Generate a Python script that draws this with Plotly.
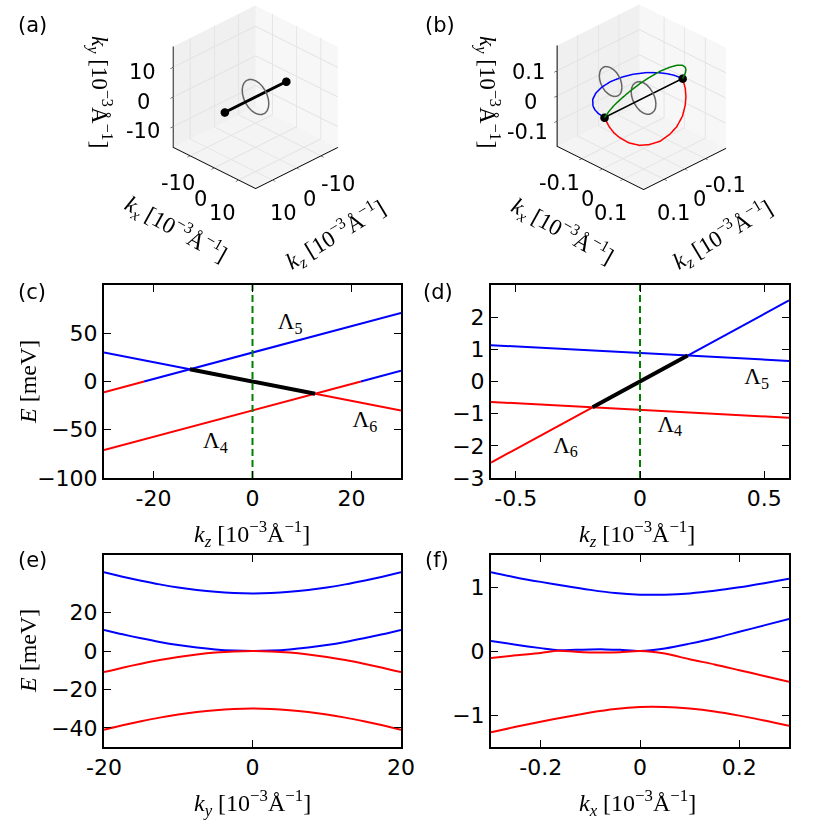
import plotly.graph_objects as go

BLUE = "#0000ff"
RED = "#ff0000"
GREEN = "#008000"
GREY = "#666666"
SANS = "DejaVu Sans"
SERIF = "Liberation Serif"

# ---- (a) nodes on the kz axis and a loop around them, 10^-3 1/A ----
a_node_kz = [-12.7, 12.7]
a_node_kx = [0, 0]
a_node_ky = [0, 0]
a_ring_kx = [5.5, 5.31, 4.76, 3.89, 2.75, 1.42, 0, -1.42, -2.75, -3.89, -4.76, -5.31, -5.5,
             -5.31, -4.76, -3.89, -2.75, -1.42, 0, 1.42, 2.75, 3.89, 4.76, 5.31, 5.5]
a_ring_ky = [0, 1.42, 2.75, 3.89, 4.76, 5.31, 5.5, 5.31, 4.76, 3.89, 2.75, 1.42, 0,
             -1.42, -2.75, -3.89, -4.76, -5.31, -5.5, -5.31, -4.76, -3.89, -2.75, -1.42, 0]
a_ring_kz = [0] * 25

# ---- (b) nodes, three nodal lines joining them, two loops ----
b_node_kz = [-0.19, 0.19]
b_node_kx = [0, 0]
b_node_ky = [0, 0]
b_line_kz = [0.19, 0.185, 0.175, 0.16, 0.13, 0.09, 0.05, 0, -0.05, -0.09, -0.13, -0.16, -0.175, -0.185, -0.19]
b_blue_kx = [0, -0.036, -0.062, -0.086, -0.117, -0.141, -0.154, -0.16, -0.154, -0.141, -0.117, -0.086, -0.062, -0.036, 0]
b_blue_ky = [0] * 15
b_green_kx = [0, 0.018, 0.031, 0.043, 0.059, 0.071, 0.077, 0.08, 0.077, 0.071, 0.059, 0.043, 0.031, 0.018, 0]
b_green_ky = [0, 0.031, 0.054, 0.074, 0.101, 0.122, 0.133, 0.139, 0.133, 0.122, 0.101, 0.074, 0.054, 0.031, 0]
b_red_kx = [0, 0.018, 0.031, 0.043, 0.059, 0.071, 0.077, 0.08, 0.077, 0.071, 0.059, 0.043, 0.031, 0.018, 0]
b_red_ky = [0, -0.031, -0.054, -0.074, -0.101, -0.122, -0.133, -0.139, -0.133, -0.122, -0.101, -0.074, -0.054, -0.031, 0]
b_ring_kx = [0.06, 0.058, 0.052, 0.042, 0.03, 0.016, 0, -0.016, -0.03, -0.042, -0.052, -0.058, -0.06,
             -0.058, -0.052, -0.042, -0.03, -0.016, 0, 0.016, 0.03, 0.042, 0.052, 0.058, 0.06]
b_ring_ky = [0, 0.016, 0.03, 0.042, 0.052, 0.058, 0.06, 0.058, 0.052, 0.042, 0.03, 0.016, 0,
             -0.016, -0.03, -0.042, -0.052, -0.058, -0.06, -0.058, -0.052, -0.042, -0.03, -0.016, 0]
b_ring2_kx = [-0.105, -0.107, -0.112, -0.121, -0.133, -0.146, -0.16, -0.174, -0.188, -0.199, -0.208, -0.213, -0.215,
              -0.213, -0.208, -0.199, -0.188, -0.174, -0.16, -0.146, -0.133, -0.121, -0.112, -0.107, -0.105]
b_ring2_ky = [0, 0.014, 0.028, 0.039, 0.048, 0.053, 0.055, 0.053, 0.048, 0.039, 0.028, 0.014, 0,
              -0.014, -0.028, -0.039, -0.048, -0.053, -0.055, -0.053, -0.048, -0.039, -0.028, -0.014, 0]
b_ring_kz = [0] * 25

# ---- (c) E(kz), meV ----
c_kz_a = [-30, -21.9, 30]
c_E_a = [-11.1, 0.0, 71.1]
c_kz_b = [-30, -12.66, 12.66, 30]
c_E_b = [30.0, 12.66, -12.66, -30.0]
c_kz_c = [-30, 21.9, 30]
c_E_c = [-71.1, 0.0, 11.1]
c_lab_kz = [7.6, 22.7, -7.5]
c_lab_E = [60, -41, -63]
c_lab_text = ["Λ<sub>5</sub>", "Λ<sub>6</sub>", "Λ<sub>4</sub>"]

# ---- (d) E(kz) zoomed ----
d_kz_flat = [-0.6, 0.6]
d_E_up = [1.13, 0.64]
d_E_dn = [-0.634, -1.126]
d_kz_steep = [-0.6, -0.191, 0.192, 0.6]
d_E_steep = [-2.52, -0.802, 0.806, 2.52]
d_lab_kz = [0.47, 0.12, -0.30]
d_lab_E = [0.1, -1.38, -2.03]
d_lab_text = ["Λ<sub>5</sub>", "Λ<sub>4</sub>", "Λ<sub>6</sub>"]

# ---- (e) E(ky) ----
e_ky = [-20, -17.5, -15, -12.5, -10, -7.5, -5, -2.5, 0, 2.5, 5, 7.5, 10, 12.5, 15, 17.5, 20]
e_b1 = [41.0, 38.7, 36.6, 34.7, 33.1, 31.8, 30.8, 30.2, 30.0, 30.2, 30.8, 31.8, 33.1, 34.7, 36.6, 38.7, 41.0]
e_b2 = [11.0, 8.7, 6.6, 4.7, 3.1, 1.8, 0.8, 0.2, 0.0, 0.2, 0.8, 1.8, 3.1, 4.7, 6.6, 8.7, 11.0]
e_r1 = [-11.0, -8.7, -6.6, -4.7, -3.1, -1.8, -0.8, -0.2, 0.0, -0.2, -0.8, -1.8, -3.1, -4.7, -6.6, -8.7, -11.0]
e_r2 = [-41.0, -38.7, -36.6, -34.7, -33.1, -31.8, -30.8, -30.2, -30.0, -30.2, -30.8, -31.8, -33.1, -34.7, -36.6,
        -38.7, -41.0]

# ---- (f) E(kx) ----
f_kx = [-0.3, -0.25, -0.2, -0.15, -0.1, -0.05, 0, 0.05, 0.1, 0.15, 0.2, 0.25, 0.3]
f_b1 = [1.23, 1.15, 1.08, 1.015, 0.955, 0.905, 0.88, 0.88, 0.90, 0.94, 0.995, 1.06, 1.13]
f_r2 = [-1.27, -1.185, -1.105, -1.03, -0.96, -0.905, -0.875, -0.875, -0.90, -0.945, -1.01, -1.085, -1.17]
f_kx2 = [-0.3, -0.25, -0.2, -0.165, -0.13, -0.1, -0.07, -0.04, 0, 0.05, 0.1, 0.15, 0.2, 0.25, 0.3]
f_b2 = [0.156, 0.098, 0.045, 0.012, 0.018, 0.024, 0.025, 0.018, 0.0, 0.04, 0.115, 0.2, 0.3, 0.4, 0.5]
f_r1 = [-0.109, -0.068, -0.03, 0.005, -0.012, -0.022, -0.025, -0.018, 0.0, -0.04, -0.13, -0.21, -0.3, -0.39, -0.48]

fig = go.Figure()


def seg(ax, xs, ys, color, width=2, dash=None, shape="linear"):
    fig.add_trace(go.Scatter(x=xs, y=ys, mode="lines", xaxis="x" + ax, yaxis="y" + ax,
                             line=dict(color=color, width=width, dash=dash, shape=shape, smoothing=0.8),
                             hoverinfo="skip", showlegend=False))


def line3d(scene, kx, ky, kz, color, width, markers=False):
    # plotly x = kz, y = kx, z = ky
    fig.add_trace(go.Scatter3d(x=kz, y=kx, z=ky, mode="lines+markers" if markers else "lines",
                               line=dict(color=color, width=width),
                               marker=dict(color=color, size=5),
                               scene=scene, hoverinfo="skip", showlegend=False))


# 3D panels
line3d("scene", a_ring_kx, a_ring_ky, a_ring_kz, GREY, 3)
line3d("scene", a_node_kx, a_node_ky, a_node_kz, "black", 6, markers=True)

line3d("scene2", b_ring_kx, b_ring_ky, b_ring_kz, GREY, 3)
line3d("scene2", b_ring2_kx, b_ring2_ky, b_ring_kz, GREY, 3)
line3d("scene2", b_blue_kx, b_blue_ky, b_line_kz, BLUE, 3)
line3d("scene2", b_green_kx, b_green_ky, b_line_kz, GREEN, 3)
line3d("scene2", b_red_kx, b_red_ky, b_line_kz, RED, 3)
line3d("scene2", b_node_kx, b_node_ky, b_node_kz, "black", 3, markers=True)

# (c)
seg("", c_kz_a[0:2], c_E_a[0:2], RED)
seg("", c_kz_a[1:3], c_E_a[1:3], BLUE)
seg("", c_kz_b[0:2], c_E_b[0:2], BLUE)
seg("", c_kz_b[2:4], c_E_b[2:4], RED)
seg("", c_kz_c[0:2], c_E_c[0:2], RED)
seg("", c_kz_c[1:3], c_E_c[1:3], BLUE)
seg("", c_kz_b[1:3], c_E_b[1:3], "black", 4)
seg("", [0, 0], [-100, 100], GREEN, 2, dash="7px,4px")

# (d)
seg("2", d_kz_flat, d_E_up, BLUE)
seg("2", d_kz_flat, d_E_dn, RED)
seg("2", d_kz_steep[0:2], d_E_steep[0:2], RED)
seg("2", d_kz_steep[2:4], d_E_steep[2:4], BLUE)
seg("2", d_kz_steep[1:3], d_E_steep[1:3], "black", 4)
seg("2", [0, 0], [-3, 3], GREEN, 2, dash="7px,4px")

# (e)
for ys, col in [(e_b1, BLUE), (e_b2, BLUE), (e_r1, RED), (e_r2, RED)]:
    seg("3", e_ky, ys, col, 2, shape="spline")

# (f)
for xs, ys, col in [(f_kx, f_b1, BLUE), (f_kx2, f_b2, BLUE), (f_kx2, f_r1, RED), (f_kx, f_r2, RED)]:
    seg("4", xs, ys, col, 2, shape="spline")

# band labels
for ax, xs, ys, txt in [("", c_lab_kz, c_lab_E, c_lab_text), ("2", d_lab_kz, d_lab_E, d_lab_text)]:
    fig.add_trace(go.Scatter(x=xs, y=ys, text=txt, mode="text", xaxis="x" + ax, yaxis="y" + ax,
                             textfont=dict(family=SERIF, size=23, color="black"),
                             hoverinfo="skip", showlegend=False))


def ax2d(domain, rng, tickvals, ticktext, anchor):
    return dict(domain=domain, range=rng, tickvals=tickvals, ticktext=ticktext, anchor=anchor,
                showline=True, linecolor="black", linewidth=2, mirror="ticks",
                ticks="inside", ticklen=7, tickwidth=1.2, tickcolor="black",
                showgrid=False, zeroline=False, fixedrange=True, automargin=False,
                tickfont=dict(family=SANS, size=22, color="black"))


XL = [104 / 830, 401 / 830]
XR = [491 / 830, 789 / 830]
YM = [1 - 478 / 830, 1 - 285 / 830]
YB = [1 - 747 / 830, 1 - 555 / 830]

fig.update_layout(
    xaxis=ax2d(XL, [-30, 30], [-20, 0, 20], ["-20", "0", "20"], "y"),
    yaxis=ax2d(YM, [-100, 100], [-100, -50, 0, 50], ["−100", "−50", "0", "50"], "x"),
    xaxis2=ax2d(XR, [-0.6, 0.6], [-0.5, 0, 0.5], ["-0.5", "0", "0.5"], "y2"),
    yaxis2=ax2d(YM, [-3, 3], [-3, -2, -1, 0, 1, 2], ["−3", "−2", "−1", "0", "1", "2"], "x2"),
    xaxis3=ax2d(XL, [-20, 20], [-20, 0, 20], ["-20", "0", "20"], "y3"),
    yaxis3=ax2d(YB, [-50, 50], [-40, -20, 0, 20], ["−40", "−20", "0", "20"], "x3"),
    xaxis4=ax2d(XR, [-0.3, 0.3], [-0.2, 0, 0.2], ["-0.2", "0", "0.2"], "y4"),
    yaxis4=ax2d(YB, [-1.5, 1.5], [-1, 0, 1], ["−1", "0", "1"], "x4"),
)


def ax3d(rng, tickvals, bg):
    return dict(title=dict(text=""), range=rng, tickvals=tickvals, showticklabels=False,
                showbackground=True, backgroundcolor=bg,
                gridcolor="#e2e2e2", gridwidth=2,
                showline=True, linecolor="black", linewidth=2,
                ticks="outside", ticklen=4, tickcolor="black",
                zeroline=False, showspikes=False)


# orthographic view, elevation ~30 deg, looking from +kz/+kx
cam = dict(eye=dict(x=0.986, y=0.986, z=0.805), up=dict(x=0, y=0, z=1),
           center=dict(x=0, y=0, z=0), projection=dict(type="orthographic"))

fig.update_layout(
    scene=dict(
        domain=dict(x=[0.12, 0.495], y=[0.766, 1.0]),
        xaxis=ax3d([-17, 17], [-10, 0, 10], "#f7f7f7"),
        yaxis=ax3d([-17, 17], [-10, 0, 10], "#f0f0f0"),
        zaxis=ax3d([-17, 17], [-10, 0, 10], "#f4f4f4"),
        aspectmode="manual", aspectratio=dict(x=1.2, y=1.2, z=1.2), camera=cam,
    ),
    scene2=dict(
        domain=dict(x=[0.585, 0.96], y=[0.766, 1.0]),
        xaxis=ax3d([-0.2, 0.2], [-0.1, 0, 0.1], "#f7f7f7"),
        yaxis=ax3d([-0.22, 0.2], [-0.1, 0, 0.1], "#f0f0f0"),
        zaxis=ax3d([-0.2, 0.2], [-0.1, 0, 0.1], "#f4f4f4"),
        aspectmode="manual", aspectratio=dict(x=1.2, y=1.26, z=1.2), camera=cam,
    ),
)

UNIT = " [10<sup>−3</sup>Å<sup>−1</sup>]"


def note(x, y, text, family, size, angle=0):
    fig.add_annotation(x=x / 830, y=1 - y / 830, xref="paper", yref="paper", text=text,
                       showarrow=False, textangle=angle, xanchor="center", yanchor="middle",
                       font=dict(family=family, size=size, color="black"))


# tick labels and titles of the 3D boxes (pixel positions of the label centres)
for lab, x, y in [("10", 142, 72), ("0", 143, 102), ("-10", 143, 131),
                  ("-10", 178, 183), ("0", 200, 199), ("10", 222, 213),
                  ("10", 283, 213), ("0", 309, 199), ("-10", 338, 184),
                  ("0.1", 528, 72), ("0", 530, 102), ("-0.1", 527, 132),
                  ("-0.1", 559, 183), ("0", 587, 199), ("0.1", 610, 213),
                  ("0.1", 673, 213), ("0", 699, 199), ("-0.1", 725, 185)]:
    note(x, y, lab, SANS, 21)
for dx, xx, xy, zx, zy in [(0, 176, 229, 335, 235), (388, 563, 230, 722, 235)]:
    note(100 + dx, 92, "<i>k<sub>y</sub></i>" + UNIT, SERIF, 23, 90)
    note(xx, xy, "<i>k<sub>x</sub></i>" + UNIT, SERIF, 23, 29)
    note(zx, zy, "<i>k<sub>z</sub></i>" + UNIT, SERIF, 23, -31)

# 2D axis titles and panel letters
note(252, 534, "<i>k<sub>z</sub></i>" + UNIT, SERIF, 24)
note(637, 534, "<i>k<sub>z</sub></i>" + UNIT, SERIF, 24)
note(252, 803, "<i>k<sub>y</sub></i>" + UNIT, SERIF, 24)
note(637, 803, "<i>k<sub>x</sub></i>" + UNIT, SERIF, 24)
note(28, 382, "<i>E</i> [meV]", SERIF, 24, -90)
note(28, 651, "<i>E</i> [meV]", SERIF, 24, -90)
for lab, x, y in [("(a)", 32, 25), ("(b)", 440, 25), ("(c)", 32, 292),
                  ("(d)", 438, 292), ("(e)", 32, 560), ("(f)", 437, 560)]:
    note(x, y, lab, SANS, 21)

fig.update_layout(width=830, height=830, margin=dict(l=0, r=0, t=0, b=0),
                  paper_bgcolor="white", plot_bgcolor="white", showlegend=False)

fig.write_html("out.html", config={"displayModeBar": False},
               post_script="document.body.style.margin = '0px';")
